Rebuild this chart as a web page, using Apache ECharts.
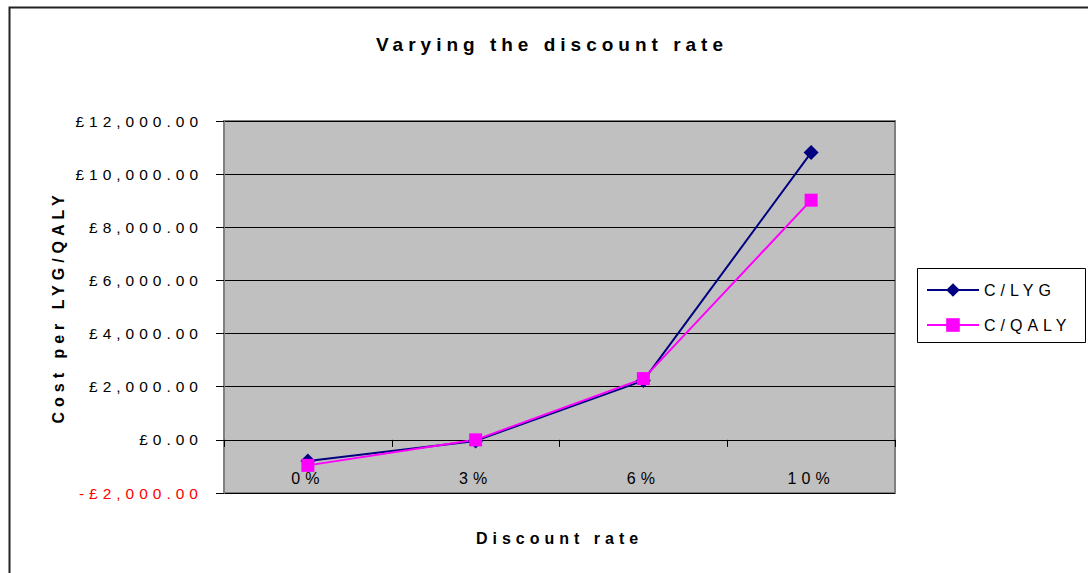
<!DOCTYPE html>
<html>
<head>
<meta charset="utf-8">
<script src="https://cdn.jsdelivr.net/npm/echarts@6/dist/echarts.min.js"></script>
<style>
  html, body { margin: 0; padding: 0; background: #fff; }
  #chart { width: 1088px; height: 573px; }
  #chart text { letter-spacing: 5px; }
</style>
</head>
<body>
<div id="chart"></div>
<script>
const categories = ['0%', '3%', '6%', '10%'];
const costPerLYG = [-800, -40, 2230, 10810];
const costPerQALY = [-960, 0, 2305, 9020];
const seriesNames = ['C/LYG', 'C/QALY'];
const yMin = -2000, yMax = 12000, yStep = 2000;

const FONT = '"Liberation Sans", Arial, sans-serif';

function fmtPounds(v) {
  const neg = v < 0;
  const s = Math.abs(v).toLocaleString('en-GB', {minimumFractionDigits: 2, maximumFractionDigits: 2});
  return (neg ? '-' : '') + '£' + s;
}

const chart = echarts.init(document.getElementById('chart'), null, {renderer: 'svg'});
chart.setOption({
  animation: false,
  backgroundColor: '#ffffff',
  textStyle: { fontFamily: FONT },
  title: {
    text: 'Varying the discount rate',
    left: 552, top: 35, textAlign: 'center', padding: 0,
    textStyle: { fontFamily: FONT, fontSize: 19, fontWeight: 'bold', color: '#000' }
  },
  grid: {
    left: 224, top: 121, right: 193, bottom: 80,
    outerBoundsMode: 'none', containLabel: false,
    show: true, backgroundColor: '#C0C0C0', borderColor: '#808080', borderWidth: 2
  },
  legend: {
    orient: 'vertical', left: 926, top: 282, padding: 0,
    itemWidth: 52, itemHeight: 17, itemGap: 19,
    textStyle: { fontFamily: FONT, fontSize: 16, color: '#000' },
    data: seriesNames
  },
  xAxis: {
    type: 'category', data: categories, boundaryGap: true,
    name: 'Discount rate', nameLocation: 'middle', nameGap: 37,
    nameTextStyle: { fontFamily: FONT, fontSize: 16, fontWeight: 'bold', color: '#000' },
    axisLine: { onZero: true, lineStyle: { color: '#000', width: 1 } },
    axisTick: { show: true, inside: false, length: 7, alignWithLabel: false, lineStyle: { color: '#000' } },
    axisLabel: { margin: -23, fontFamily: FONT, fontSize: 16, color: '#000' },
    splitLine: { show: false }
  },
  yAxis: {
    type: 'value', min: yMin, max: yMax, interval: yStep,
    name: 'Cost per LYG/QALY', nameLocation: 'middle', nameGap: 158, nameRotate: 90,
    nameTextStyle: { fontFamily: FONT, fontSize: 16, fontWeight: 'bold', color: '#000' },
    axisLine: { show: true, lineStyle: { color: '#808080', width: 2 } },
    axisTick: { show: true, inside: false, length: 8, lineStyle: { color: '#000' } },
    axisLabel: {
      margin: 21, fontFamily: FONT, fontSize: 15.5,
      formatter: fmtPounds,
      color: function (val) { return Number(val) < 0 ? '#FF0000' : '#000'; }
    },
    splitLine: { show: true, lineStyle: { color: '#000', width: 1 } }
  },
  series: [
    {
      name: seriesNames[0], type: 'line', data: costPerLYG,
      symbol: 'diamond', symbolSize: 15,
      lineStyle: { color: '#000080', width: 2 },
      itemStyle: { color: '#000080' }
    },
    {
      name: seriesNames[1], type: 'line', data: costPerQALY,
      symbol: 'rect', symbolSize: 13,
      lineStyle: { color: '#FF00FF', width: 2 },
      itemStyle: { color: '#FF00FF' }
    }
  ],
  graphic: [
    { type: 'rect', left: 7, top: 5, silent: true, z: -10,
      shape: { x: 0, y: 0, width: 1100, height: 600 },
      style: { fill: 'none', stroke: '#222', lineWidth: 2 } },
    { type: 'rect', left: 917, top: 268, silent: true, z: -5,
      shape: { x: 0, y: 0, width: 168, height: 74 },
      style: { fill: '#fff', stroke: '#000', lineWidth: 1 } }
  ]
});
</script>
</body>
</html>
